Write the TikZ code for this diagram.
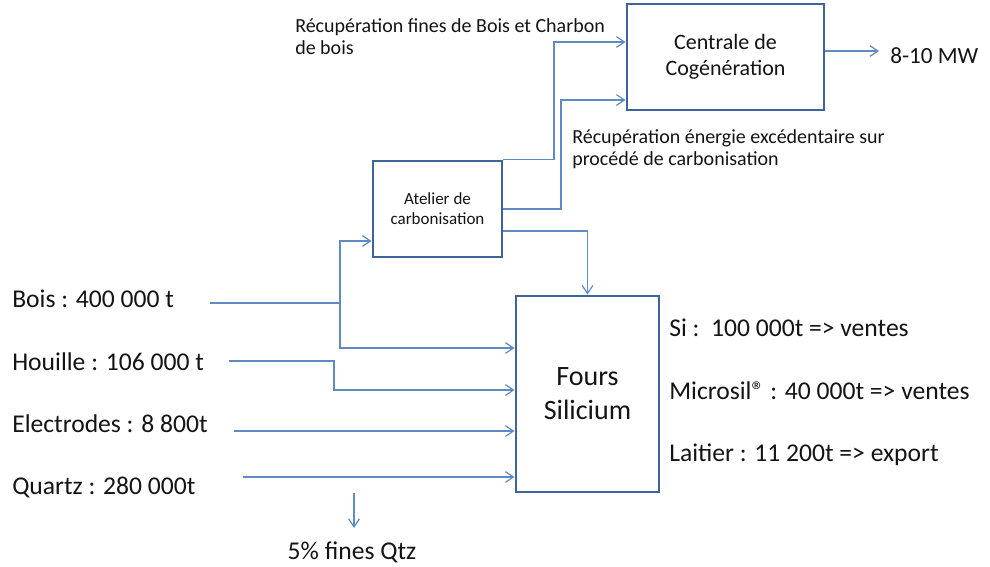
\documentclass[tikz,border=0pt]{standalone}
\usepackage{fontspec}
\setmainfont{Carlito}
\usetikzlibrary{arrows.meta}
\definecolor{boxblue}{RGB}{62,100,152}
\definecolor{lineblue}{RGB}{95,138,196}
\definecolor{txt}{RGB}{20,20,20}
\begin{document}
\begin{tikzpicture}[x=0.75pt,y=-0.75pt,
  box/.style={draw=boxblue,line width=2.2pt,fill=white,align=center,inner sep=0pt,text=txt},
  conn/.style={draw=lineblue,line width=0.9pt,-{Straight Barb[length=6pt,width=8pt]}},
  plain/.style={draw=lineblue,line width=0.9pt},
  lbl/.style={inner sep=0pt,text=txt,anchor=base west},
  big/.style={font=\fontsize{19.2}{23}\selectfont},
  med/.style={font=\fontsize{15}{16.5}\selectfont,align=left},
]
\useasboundingbox (0,0) rectangle (990,567);

% boxes
\node[box,minimum width=147.75pt,minimum height=79.5pt,font=\fontsize{16.5}{19.5}\selectfont] (centrale) at (725.5,57) {Centrale de\\Cogénération};
\node[box,minimum width=96.75pt,minimum height=72pt,font=\fontsize{12.75}{15}\selectfont] (atelier) at (437.5,209) {Atelier de\\carbonisation};
\node[box,minimum width=107.25pt,minimum height=147pt,font=\fontsize{21}{25.5}\selectfont] (fours) at (587.5,394) {Fours\\Silicium};

% labels
\node[lbl,big] (bois) at (12,307) {Bois : 400 000 t};
\node[lbl,big] (houille) at (12,370) {Houille : 106 000 t};
\node[lbl,big] (electrodes) at (12,432) {Electrodes : 8 800t};
\node[lbl,big] (quartz) at (12,494) {Quartz : 280 000t};
\node[lbl,big] (si) at (669,336) {Si :~~100 000t => ventes};
\node[lbl,big] (microsil) at (669,399) {Microsil® : 40 000t => ventes};
\node[lbl,big] (laitier) at (669,461) {Laitier : 11 200t => export};
\node[lbl,font=\fontsize{17.4}{20}\selectfont] (mw) at (890,64) {8-10 MW};
\node[lbl,med] (recfines) at (295,55) {Récupération fines de Bois et Charbon\\de bois};
\node[lbl,med] (recener) at (572,166) {Récupération énergie excédentaire sur\\procédé de carbonisation};
\node[inner sep=0pt,text=txt,anchor=base,big] (fines) at (352,559) {5\% fines Qtz};

% coordinates
\coordinate (mwin) at (879,51);
\coordinate (a1) at (554,42);
\coordinate (a2) at (561,100);
\coordinate (bs) at (210,303);
\coordinate (bj) at (340,303);
\coordinate (hs) at (229,361);
\coordinate (hj) at (334,361);
\coordinate (es) at (234,431);
\coordinate (qs) at (243,477);
\coordinate (qd1) at (354,493);
\coordinate (qd2) at (354,528);

% connectors
\draw[conn] (centrale.east |- mwin) -- (mwin);
\draw[conn] (atelier.north east) -| (a1) -- (centrale.west |- a1);
\draw[conn] (atelier.east) -| (a2) -- (centrale.west |- a2);
\draw[conn] ([yshift=-16.5pt]atelier.east) -| (fours.north);
\draw[plain] (bs) -- (bj);
\draw[conn] (bj) |- ([yshift=-24pt]atelier.west);
\draw[conn] (bj) |- ([yshift=34.5pt]fours.west);
\draw[conn] (hs) -- (hj) |- ([yshift=3pt]fours.west);
\draw[conn] (es) -- (es -| fours.west);
\draw[conn] (qs) -- (qs -| fours.west);
\draw[conn] (qd1) -- (qd2);
\end{tikzpicture}
\end{document}
